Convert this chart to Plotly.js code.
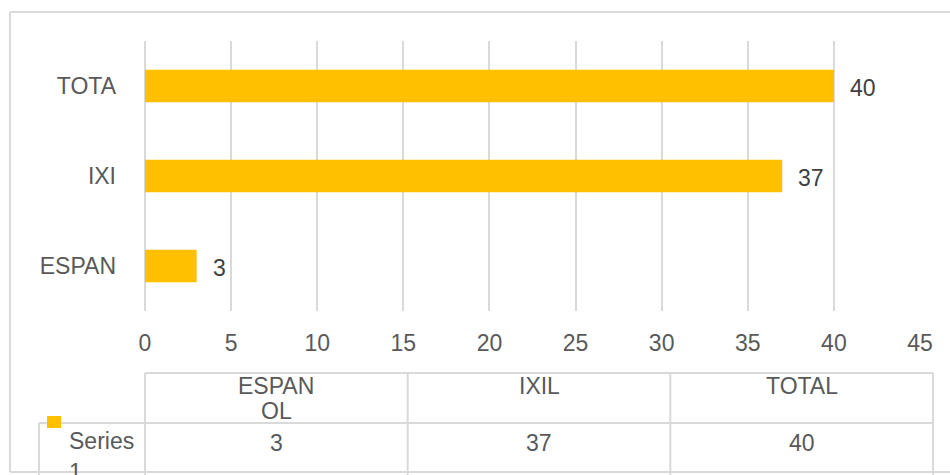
<!DOCTYPE html>
<html>
<head>
<meta charset="utf-8">
<script src="https://cdn.plot.ly/plotly-3.0.1.min.js"></script>
<style>html,body{margin:0;padding:0;background:#fff;}#chart{width:950px;height:475px;}</style>
</head>
<body>
<div id="chart"></div>
<script>
// ---- data ----
const categories = ['ESPANOL', 'IXIL', 'TOTAL'];
const axisTickLabels = ['ESPAN', 'IXI', 'TOTA'];
const tableHeaderLines = [['ESPAN', 'OL'], ['IXIL'], ['TOTAL']];
const seriesNameLines = ['Series', '1'];
const series1Values = [3, 37, 40];
const xTickValues = [0, 5, 10, 15, 20, 25, 30, 35, 40, 45];

// ---- layout helpers (pixel -> paper) ----
const W = 950, H = 475;
const M = {l: 145, r: 30, t: 41, b: 164};
const PW = W - M.l - M.r, PH = H - M.t - M.b;
const px = x => (x - M.l) / PW;
const py = y => (H - M.b - y) / PH;

const gridCol = '#d9d9d9';
const txtCol = '#595959';
const barCol = '#FFC000';
const FONT = '"Liberation Sans", Arial, sans-serif';
const FS = 23;

const shapes = [];
const annotations = [];
function hline(x0, x1, y) {
  shapes.push({type: 'line', xref: 'paper', yref: 'paper', x0: px(x0), x1: px(x1), y0: py(y), y1: py(y), line: {color: gridCol, width: 2}});
}
function vline(x, y0, y1) {
  shapes.push({type: 'line', xref: 'paper', yref: 'paper', x0: px(x), x1: px(x), y0: py(y0), y1: py(y1), line: {color: gridCol, width: 2}});
}
function label(text, x, y, opts) {
  annotations.push(Object.assign({text: text, xref: 'paper', yref: 'paper', x: px(x), y: py(y), showarrow: false,
    xanchor: 'center', yanchor: 'middle', font: {family: FONT, size: FS, color: txtCol}}, opts || {}));
}

// outer chart border
hline(10, 960, 12);
hline(10, 960, 472);
vline(10, 12, 472);

// data table
const tL = 145, tR = 933, tTop = 373, tMid = 423, tBot = 485;
const colW = (tR - tL) / categories.length;
hline(tL, tR, tTop);
hline(39, tR, tMid);
for (let i = 0; i <= categories.length; i++) vline(tL + i * colW, tTop, tBot);
vline(39, tMid, tBot);

categories.forEach((c, i) => {
  const cx = tL + (i + 0.5) * colW;
  tableHeaderLines[i].forEach((ln, j) => label(ln, cx, 385.5 + j * 25));
  label(String(series1Values[i]), cx, 442.5);
});
// legend key + series name
shapes.push({type: 'rect', xref: 'paper', yref: 'paper', x0: px(47), x1: px(61), y0: py(416), y1: py(428), fillcolor: barCol, line: {width: 0}});
seriesNameLines.forEach((ln, j) => label(ln, 67, 440.5 + j * 31, {xanchor: 'left'}));

// bar data labels
categories.forEach((c, i) => {
  annotations.push({x: series1Values[i], y: c, xref: 'x', yref: 'y', text: String(series1Values[i]),
    showarrow: false, xanchor: 'left', yanchor: 'middle', xshift: 14, yshift: -2,
    font: {family: FONT, size: FS, color: '#404040'}});
});

const trace = {
  type: 'bar', orientation: 'h', y: categories, x: series1Values,
  marker: {color: barCol}, hoverinfo: 'skip', showlegend: false
};

const layout = {
  width: W, height: H,
  margin: M,
  paper_bgcolor: '#fff', plot_bgcolor: '#fff',
  font: {family: FONT, size: FS, color: txtCol},
  bargap: 0.64,
  showlegend: false,
  xaxis: {
    range: [0, 45], tickvals: xTickValues, ticktext: xTickValues.map(String),
    showgrid: true, gridcolor: gridCol, gridwidth: 2,
    zeroline: true, zerolinecolor: gridCol, zerolinewidth: 2,
    showline: false, ticks: '', ticklabelstandoff: 16, fixedrange: true,
    tickfont: {family: FONT, size: FS, color: txtCol}
  },
  yaxis: {
    type: 'category', categoryorder: 'array', categoryarray: categories,
    tickvals: categories, ticktext: axisTickLabels,
    showgrid: false, zeroline: false, showline: false, ticks: '', ticklabelstandoff: 28, fixedrange: true,
    tickfont: {family: FONT, size: FS, color: txtCol}
  },
  shapes: shapes,
  annotations: annotations
};

Plotly.newPlot('chart', [trace], layout, {displayModeBar: false, staticPlot: true});
</script>
</body>
</html>
